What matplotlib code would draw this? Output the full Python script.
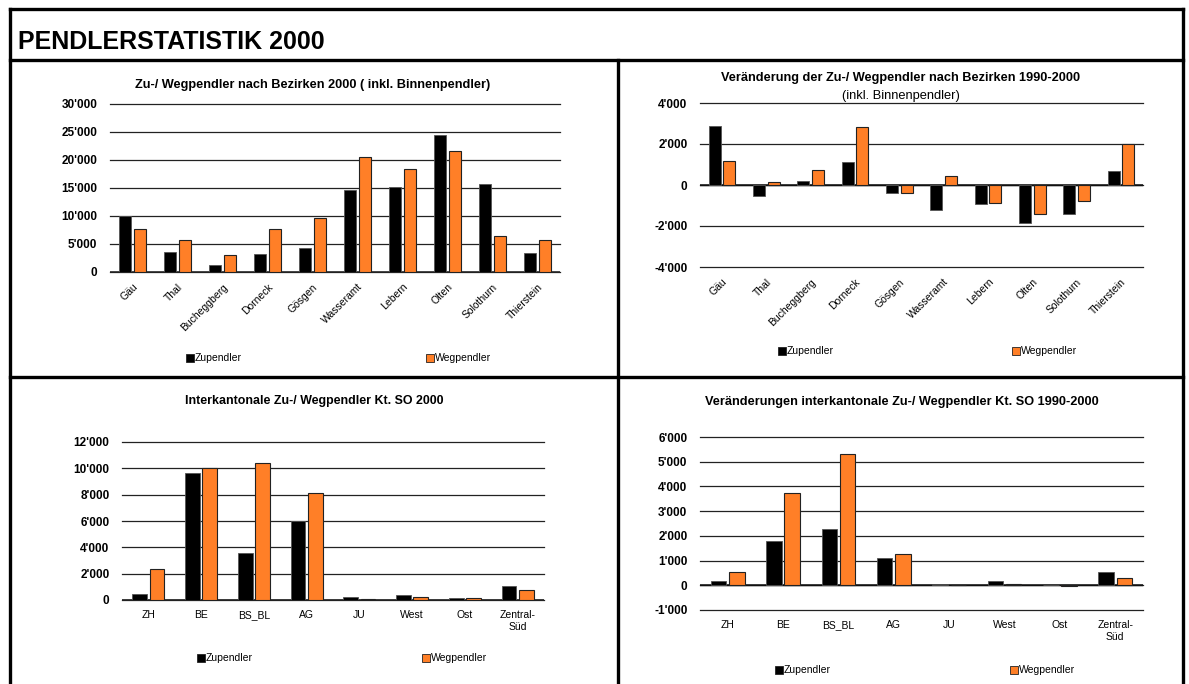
"""Pendlerstatistik 2000: four grouped bar charts (Zu-/Wegpendler) in a framed panel."""
import matplotlib
matplotlib.use("Agg")
import matplotlib.pyplot as plt
from matplotlib.lines import Line2D
import numpy as np

plt.rcParams["font.family"] = ["Liberation Sans", "DejaVu Sans"]

BLACK = "#000000"
ORANGE = "#FF7F27"

# data -------------------------------------------------------------------
bezirke = ["Gäu", "Thal", "Bucheggberg", "Dorneck", "Gösgen", "Wasseramt",
           "Lebern", "Olten", "Solothurn", "Thierstein"]
zu_2000 = [10000, 3500, 1300, 3200, 4200, 14650, 15200, 24450, 15750, 3450]
weg_2000 = [7650, 5650, 2950, 7600, 9650, 20550, 18350, 21600, 6400, 5700]

zu_diff = [2880, -520, 180, 1140, -370, -1220, -930, -1840, -1400, 700]
weg_diff = [1150, 150, 730, 2830, -390, 440, -880, -1410, -780, 2000]

kantone = ["ZH", "BE", "BS_BL", "AG", "JU", "West", "Ost", "Zentral-\nSüd"]
zu_kt = [450, 9650, 3560, 5980, 250, 380, 150, 1090]
weg_kt = [2350, 10000, 10380, 8100, 100, 230, 150, 760]

zu_kt_diff = [190, 1780, 2280, 1120, 40, 190, 20, 540]
weg_kt_diff = [550, 3750, 5320, 1280, 0, 70, -40, 300]

W, H = 1189, 684


def fx(px):
    return px / W


def fy(py):
    return 1 - py / H


def fmt(v):
    return f"{v:,.0f}".replace(",", "'")


def bar_panel(ax, cats, zu, weg, ticks, width, offset, rot):
    x = np.arange(len(cats))
    ax.bar(x - offset, zu, width, color=BLACK, edgecolor="#555555", linewidth=0.6, zorder=3)
    ax.bar(x + offset, weg, width, color=ORANGE, edgecolor="#222222", linewidth=0.8, zorder=3)
    ax.set_xlim(-0.5, len(cats) - 0.5)
    ax.set_ylim(ticks[0], ticks[-1])
    ax.set_yticks(ticks)
    ax.set_yticklabels([fmt(t) for t in ticks], fontsize=8.5, fontweight="bold")
    for t in ticks:
        ax.axhline(t, color="#222222", linewidth=0.9, zorder=1, clip_on=False)
    ax.axhline(0, color="#444444", linewidth=1.4, zorder=2)
    ax.set_xticks(x)
    if rot:
        ax.set_xticklabels(cats, fontsize=7.5, rotation=45, ha="right", va="top",
                           rotation_mode="anchor")
    else:
        ax.set_xticklabels(cats, fontsize=7.5, linespacing=1.25)
    ax.tick_params(axis="y", length=0, pad=9)
    ax.tick_params(axis="x", length=0, pad=7)
    for s in ax.spines.values():
        s.set_visible(False)


def legend_at(fig, x1, x2, y):
    size = 8 / W
    for xp, col, lab in [(x1, BLACK, "Zupendler"), (x2, ORANGE, "Wegpendler")]:
        fig.patches.append(plt.Rectangle((fx(xp), fy(y) - 4 / H), size, 8 / H,
                                         facecolor=col, edgecolor="#222222",
                                         linewidth=0.6, transform=fig.transFigure))
        fig.text(fx(xp + 9), fy(y), lab, fontsize=7.5, va="center", ha="left")


fig = plt.figure(figsize=(W / 100, H / 100), dpi=100)

# top left
ax1 = fig.add_axes([fx(110), fy(272), fx(560) - fx(110), fy(104) - fy(272)])
bar_panel(ax1, bezirke, zu_2000, weg_2000, [0, 5000, 10000, 15000, 20000, 25000, 30000],
          0.27, 0.165, True)
fig.text(fx(313), fy(85), "Zu-/ Wegpendler nach Bezirken 2000 ( inkl. Binnenpendler)",
         fontsize=9.2, fontweight="bold", ha="center", va="center")
legend_at(fig, 186, 426, 358)

# top right
ax2 = fig.add_axes([fx(700), fy(267), fx(1143) - fx(700), fy(103) - fy(267)])
bar_panel(ax2, bezirke, zu_diff, weg_diff, [-4000, -2000, 0, 2000, 4000],
          0.27, 0.165, True)
ax2.axhline(0, color="#111111", linewidth=1.0, zorder=2)
fig.text(fx(901), fy(78), "Veränderung der Zu-/ Wegpendler nach Bezirken 1990-2000",
         fontsize=9.2, fontweight="bold", ha="center", va="center")
fig.text(fx(901), fy(96), "(inkl. Binnenpendler)", fontsize=9.3, ha="center", va="center")
legend_at(fig, 778, 1012, 351)

# bottom left
ax3 = fig.add_axes([fx(122), fy(600), fx(544) - fx(122), fy(442) - fy(600)])
bar_panel(ax3, kantone, zu_kt, weg_kt, [0, 2000, 4000, 6000, 8000, 10000, 12000],
          0.28, 0.165, False)
ax3.axhline(0, color="#111111", linewidth=1.0, zorder=2)
fig.text(fx(314), fy(401), "Interkantonale Zu-/ Wegpendler Kt. SO 2000",
         fontsize=8.9, fontweight="bold", ha="center", va="center")
legend_at(fig, 197, 422, 658)

# bottom right
ax4 = fig.add_axes([fx(700), fy(610), fx(1143) - fx(700), fy(437) - fy(610)])
bar_panel(ax4, kantone, zu_kt_diff, weg_kt_diff,
          [-1000, 0, 1000, 2000, 3000, 4000, 5000, 6000], 0.28, 0.165, False)
ax4.axhline(0, color="#111111", linewidth=1.0, zorder=2)
fig.text(fx(902), fy(402), "Veränderungen interkantonale Zu-/ Wegpendler Kt. SO 1990-2000",
         fontsize=9.2, fontweight="bold", ha="center", va="center")
legend_at(fig, 775, 1010, 670)

# frame and main title
fig.text(fx(18), fy(42), "PENDLERSTATISTIK 2000", fontsize=18, fontweight="bold",
         family=["Liberation Sans Narrow", "Liberation Sans", "DejaVu Sans"],
         ha="left", va="center")
lw = 2.4
frame = [
    ([10, 1183], [9, 9]),
    ([10, 10], [9, 684]),
    ([1183, 1183], [9, 684]),
    ([10, 1183], [60, 60]),
    ([10, 1183], [377, 377]),
    ([618, 618], [60, 684]),
]
for xs, ys in frame:
    fig.add_artist(Line2D([fx(v) for v in xs], [fy(v) for v in ys], color="black",
                          linewidth=lw, transform=fig.transFigure))

fig.savefig("out.png", dpi=100)
